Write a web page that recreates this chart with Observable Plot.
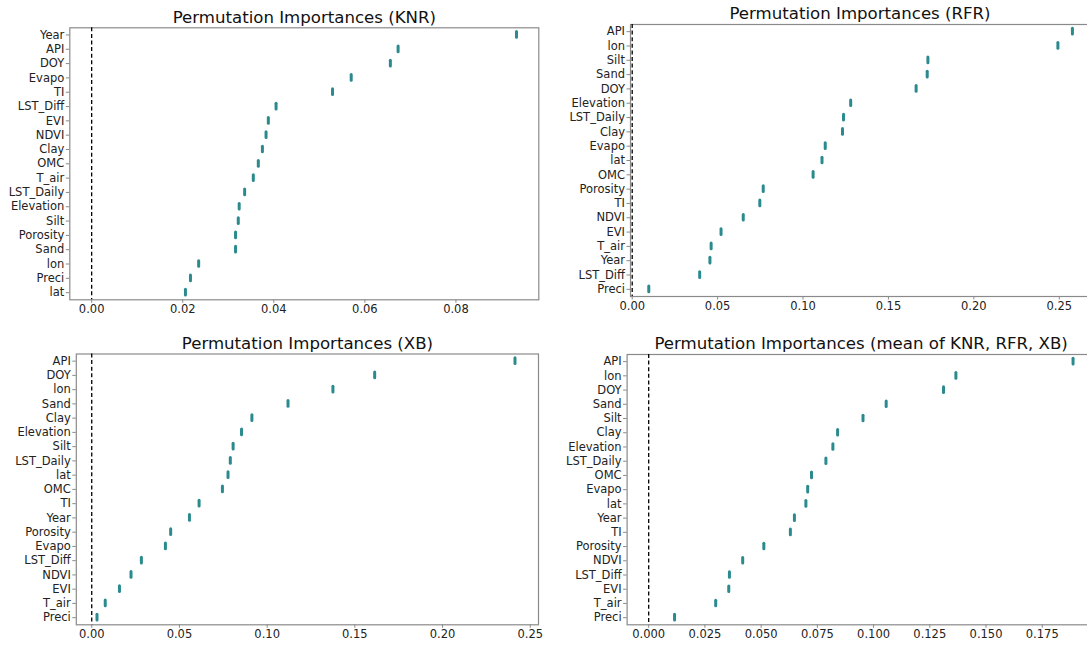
<!DOCTYPE html>
<html><head><meta charset="utf-8">
<script src="https://cdn.jsdelivr.net/npm/d3@7"></script>
<script src="https://cdn.jsdelivr.net/npm/@observablehq/plot@0.6"></script>
<style>
html,body{margin:0;padding:0;background:#fff;overflow:hidden;}
#root{position:relative;width:1087px;height:645px;overflow:hidden;background:#fff;}
#root > div, #root > svg{position:absolute;}
</style></head><body><div id="root"></div>
<script>
// ---- data ----
const knrTitle = "Permutation Importances (KNR)";
const knrFeatures = ["Year","API","DOY","Evapo","TI","LST_Diff","EVI","NDVI","Clay","OMC","T_air","LST_Daily","Elevation","Silt","Porosity","Sand","lon","Preci","lat"];
const knrValues = [0.0933,0.0673,0.0656,0.0570,0.0529,0.0405,0.0388,0.0383,0.0375,0.0366,0.0355,0.0336,0.0324,0.0322,0.0316,0.0316,0.0235,0.0217,0.0206];
const knrTicks = [0, 0.02, 0.04, 0.06, 0.08];

const rfrTitle = "Permutation Importances (RFR)";
const rfrFeatures = ["API","lon","Silt","Sand","DOY","Elevation","LST_Daily","Clay","Evapo","lat","OMC","Porosity","TI","NDVI","EVI","T_air","Year","LST_Diff","Preci"];
const rfrValues = [0.2577,0.2492,0.1731,0.1727,0.1662,0.1279,0.1237,0.1231,0.1130,0.1111,0.1059,0.0767,0.0747,0.0650,0.0520,0.0462,0.0455,0.0395,0.0097];
const rfrTicks = [0, 0.05, 0.10, 0.15, 0.20, 0.25];

const xbTitle = "Permutation Importances (XB)";
const xbFeatures = ["API","DOY","lon","Sand","Clay","Elevation","Silt","LST_Daily","lat","OMC","TI","Year","Porosity","Evapo","LST_Diff","NDVI","EVI","T_air","Preci"];
const xbValues = [0.2413,0.1613,0.1375,0.1119,0.0913,0.0854,0.0806,0.0790,0.0777,0.0745,0.0612,0.0557,0.0450,0.0420,0.0283,0.0224,0.0158,0.0077,0.0030];
const xbTicks = [0, 0.05, 0.10, 0.15, 0.20, 0.25];

const meanTitle = "Permutation Importances (mean of KNR, RFR, XB)";
const meanFeatures = ["API","lon","DOY","Sand","Silt","Clay","Elevation","LST_Daily","OMC","Evapo","lat","Year","TI","Porosity","NDVI","LST_Diff","EVI","T_air","Preci"];
const meanValues = [0.1887,0.1366,0.1311,0.1056,0.0953,0.0840,0.0819,0.0788,0.0724,0.0707,0.0699,0.0648,0.0630,0.0512,0.0418,0.0359,0.0356,0.0298,0.0115];
const meanTicks = [0, 0.025, 0.05, 0.075, 0.10, 0.125, 0.15, 0.175];

// ---- drawing ----
const root = document.getElementById("root");
const markColor = "#2a8a8e";
const spineColor = "#8a8a8a";
const textColor = "#222";

function panel(cfg) {
  const rows = cfg.features.map((f, i) => ({feature: f, value: cfg.values[i]}));
  const chart = Plot.plot({
    width: cfg.width,
    height: cfg.height,
    marginLeft: cfg.ml, marginRight: cfg.mr, marginTop: cfg.mt, marginBottom: cfg.mb,
    style: {fontFamily: "DejaVu Sans, sans-serif", fontSize: "11.5px", background: "transparent", overflow: "visible"},
    x: {domain: cfg.domain, axis: null},
    y: {domain: cfg.features, padding: 0, round: false, axis: null},
    marks: [
      Plot.frame({stroke: spineColor, strokeWidth: 1.2}),
      Plot.ruleX([0], {stroke: "#000", strokeWidth: 1.3, strokeDasharray: "4,2.6"}),
      Plot.axisY({tickSize: 3.5, tickPadding: 2, stroke: spineColor, fill: textColor, fontSize: 11.5, label: null}),
      Plot.axisX({ticks: cfg.ticks, tickFormat: d3.format(cfg.fmt), tickSize: 3.5, tickPadding: 1.5, stroke: spineColor, fill: textColor, fontSize: 11.5, label: null}),
      Plot.tickX(rows, {x: "value", y: "feature", stroke: markColor, strokeWidth: 3, strokeLinecap: "round", insetTop: 4.3, insetBottom: 4.3}),
      Plot.text([cfg.title], {frameAnchor: "top", dy: -10.5, lineAnchor: "middle", text: d => d, fontSize: 16.6, fill: "#111"})
    ]
  });
  chart.style.left = cfg.left + "px";
  chart.style.top = cfg.top + "px";
  chart.style.position = "absolute";
  root.appendChild(chart);
}

panel({title: knrTitle, features: knrFeatures, values: knrValues, ticks: knrTicks, fmt: ".2f",
  domain: [-0.0048, 0.0982], left: 0, top: 0, width: 545, height: 320, ml: 69.3, mr: 6.7, mt: 27.3, mb: 20.7});
panel({title: rfrTitle, features: rfrFeatures, values: rfrValues, ticks: rfrTicks, fmt: ".2f",
  domain: [-0.001, 0.2677], left: 545, top: 0, width: 544, height: 320, ml: 85, mr: 0, mt: 24, mb: 24});
panel({title: xbTitle, features: xbFeatures, values: xbValues, ticks: xbTicks, fmt: ".2f",
  domain: [-0.0088, 0.2547], left: 0, top: 320, width: 545, height: 325, ml: 75.8, mr: 7, mt: 33.5, mb: 20.7});
panel({title: meanTitle, features: meanFeatures, values: meanValues, ticks: meanTicks, fmt: ".3f",
  domain: [-0.0096, 0.1985], left: 545, top: 320, width: 555, height: 325, ml: 81.6, mr: 5.4, mt: 34, mb: 20.7});
</script>
</body></html>
